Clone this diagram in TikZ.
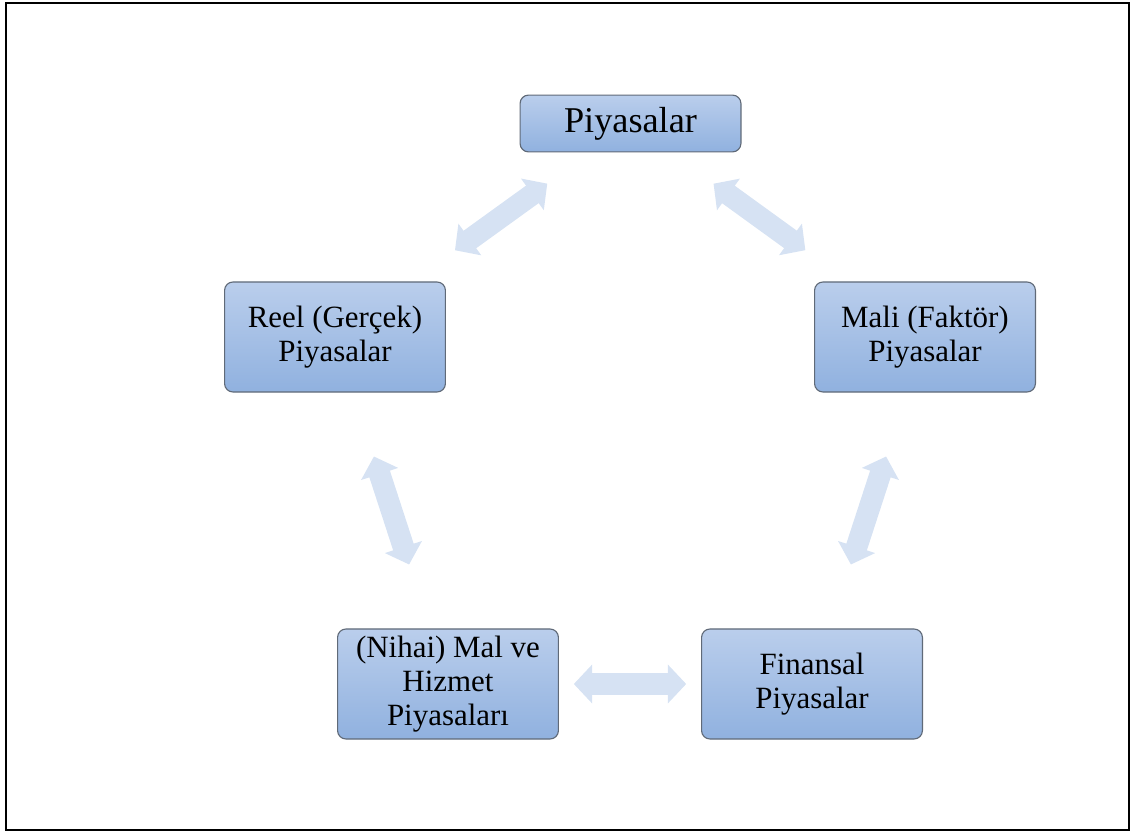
\documentclass[tikz,border=0pt]{standalone}
\usepackage{fontspec}
\setmainfont{Liberation Serif}
\usepackage{xcolor}
\usepackage{tikz}
\usetikzlibrary{arrows.meta,positioning}
\definecolor{BoxTop}{RGB}{186,206,236}
\definecolor{BoxBottom}{RGB}{144,177,223}
\definecolor{BoxBorder}{RGB}{96,106,120}
\definecolor{ArrowBlue}{RGB}{214,226,243}

\begin{document}
\begin{tikzpicture}[x=0.025cm,y=-0.025cm,
    market/.style={draw=BoxBorder,line width=0.8pt,rounded corners=6pt,
                   top color=BoxTop,bottom color=BoxBottom,
                   minimum width=5.52cm,minimum height=2.75cm,
                   inner sep=0pt,align=center,
                   font=\fontsize{22}{24}\selectfont},
    flow/.style={{Triangle[width=0.95cm,length=0.46cm]}-{Triangle[width=0.95cm,length=0.46cm]},
                 line width=0.54cm,ArrowBlue}]

    \useasboundingbox (0,0) rectangle (1131,832);
    \draw[line width=1.5pt] (6,3) rectangle (1129,830);

    \node[market,minimum height=1.42cm,
          font=\fontsize{25.8}{28}\selectfont] (top) at (630.5,123.5) {Piyasalar};

    \node[market] (reel) at (335,337) {Reel (Gerçek)\\Piyasalar};
    \node[market] (mali) at (925,337) {Mali (Faktör)\\Piyasalar};
    \node[market] (mal)  at (448,684) {(Nihai) Mal ve\\Hizmet\\Piyasaları};
    \node[market] (fin)  at (812,684) {Finansal\\Piyasalar};

    \foreach \from/\to/\gap in {top/reel/1.33cm, top/mali/1.33cm,
                                reel/mal/1.68cm, mali/fin/1.68cm, mal/fin/0.37cm}
      \draw[flow,shorten <=\gap,shorten >=\gap] (\from) -- (\to);
  \end{tikzpicture}
\end{document}
